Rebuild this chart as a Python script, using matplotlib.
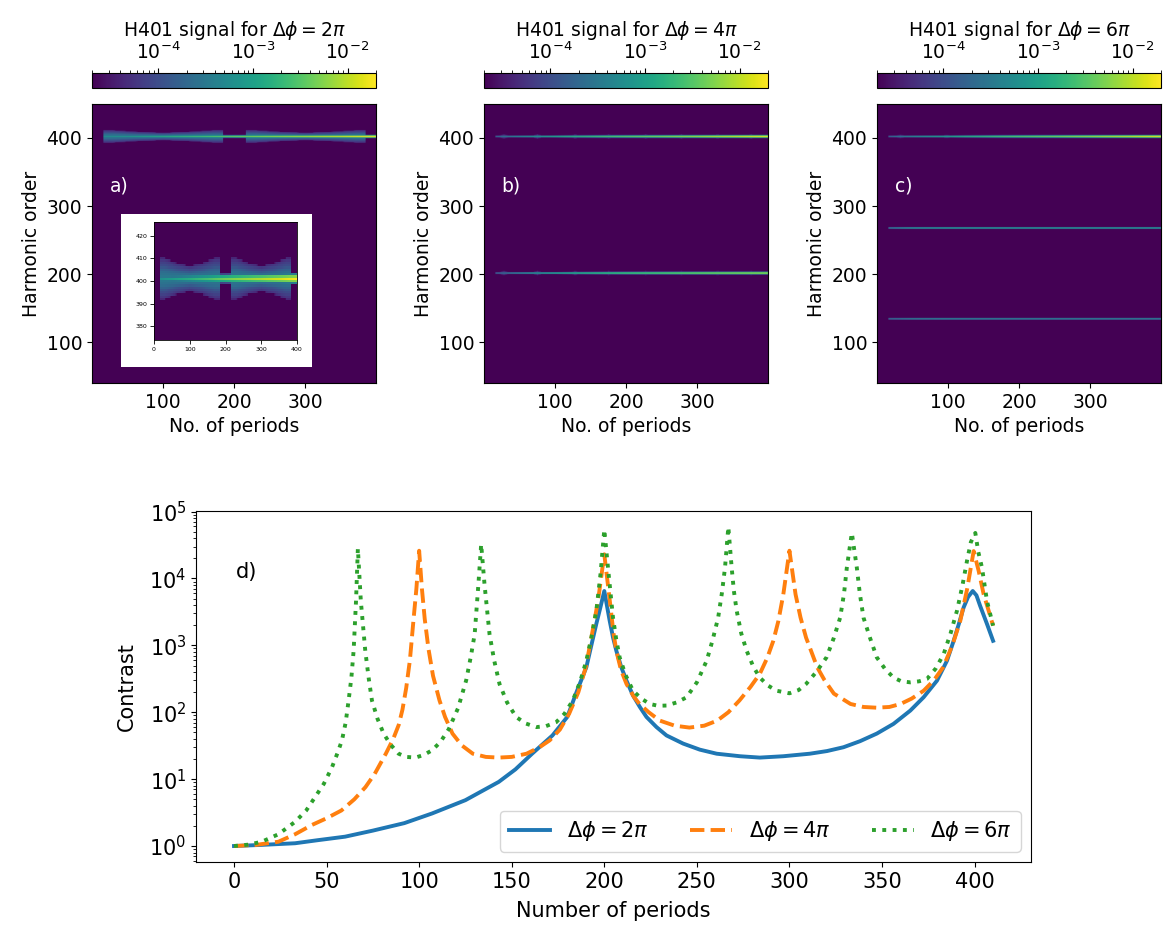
import numpy as np
import matplotlib.pyplot as plt
from matplotlib.colors import LogNorm

plt.rcParams['font.size'] = 13.5

# ---------------- contrast vs. number of periods (panel d) ----------------
n_2pi = [0, 15, 33, 45, 60, 75, 92, 107, 125, 143, 152, 161, 172, 180, 185, 190.3,
         193, 195.7, 198, 200, 202.9, 204.7, 206.5, 209.2, 212, 215.5, 219.2, 222.8,
         228.2, 233.6, 242.6, 251.6, 260.7, 273.3, 284, 296.7, 311, 320.3, 329.2,
         338.2, 347.2, 356.2, 365.3, 372.5, 379.7, 385.1, 388.7, 391.5, 394.1, 396.5,
         399, 401, 403, 406.7, 410]
c_2pi = [1.0, 1.04, 1.1, 1.22, 1.38, 1.7, 2.2, 3.07, 4.85, 9.1, 14, 24, 45, 85, 200, 470,
         1000, 2100, 3800, 6500, 2340, 1320, 830, 470, 297, 178, 120, 85,
         60, 45, 34, 27.6, 24, 22, 21, 22, 24, 26.3, 30,
         37, 48, 67, 106, 168, 297, 590, 1170, 2090, 3700, 5300,
         6500, 5600, 3900, 2090, 1170]

n_4pi = [0, 12, 24, 33, 42, 50, 58, 65, 71, 76, 82, 86, 89, 91, 93, 95, 97, 98.5, 100,
         101.5, 103, 105, 107.5, 111, 114, 118, 123, 129, 136, 143, 150, 158, 165,
         170.5, 176, 181, 186, 190, 193, 196.6, 200, 203, 205, 206.5, 209, 212, 216,
         219, 224, 230, 238, 246, 254, 261, 267, 273, 279, 284, 288, 291.3, 294,
         296.7, 300, 303.3, 306, 309, 311, 315, 319, 324, 333, 340, 347, 354, 360,
         366, 372.5, 378, 383, 388, 392.3, 396, 399.5, 402.2, 404.9, 407.6, 410]
c_4pi = [1.0, 1.04, 1.16, 1.5, 2.06, 2.6, 3.4, 5, 7.6, 12, 24, 40, 65, 110, 230, 600,
         2500, 7000, 26000,
         7000, 2500, 900, 350, 150, 85, 48, 32, 24, 21.5, 21, 21.5, 24, 30,
         38, 55, 95, 200, 470, 1300, 4600, 23000, 4600, 1500, 830, 430, 265, 170,
         133, 100, 75, 63, 59, 63, 75, 100, 150, 240, 375, 650, 1170, 2300,
         5800, 26000, 5800, 2600, 1300, 930, 470, 300, 190, 133, 120, 117, 120, 133,
         160, 210, 300, 470, 1000, 2340, 7000, 25700, 13000, 5800, 3300, 1970]

n_6pi = [0, 8, 15, 24, 33, 39, 43.8, 48.5, 52.9, 56, 58.3, 60.3, 61.9, 63.4, 64.6,
         65.9, 66.9, 68.5, 70.9, 72.7, 74.5, 77.5, 80.8, 84.5, 88.9, 93, 98, 102.5,
         107, 111.5, 116, 121, 125.4, 128, 130, 132, 133.5, 135.3, 138, 140.5, 143.4,
         147.5, 152.4, 157.5, 163.3, 168.5, 174, 178.5, 183, 187, 190.3, 193, 195.7,
         198, 200, 202, 204.7, 206.5, 208.3, 211.5, 215.5, 220, 224.6, 229, 233.6,
         239, 244.4, 250, 255.3, 258.5, 261.5, 263.5, 265.2, 267, 268.8, 270, 271.5,
         274, 276.9, 280.5, 284, 288.5, 293, 300, 305, 309, 314.5, 320, 324, 327.4,
         329.5, 331, 333.7, 336.4, 338, 340, 343.5, 347.2, 351.5, 356.2, 360.5,
         365.3, 370, 374.3, 379, 383.3, 387, 390.5, 393.5, 395.9, 398, 400.4, 402,
         404, 406.7, 410]
c_6pi = [1.0, 1.05, 1.16, 1.5, 2.3, 3.4, 5.4, 8.5, 15, 25, 38, 70, 150, 330, 830,
         4600, 28000, 4600, 830, 330, 150, 80, 48, 33, 24, 21.5, 21, 23,
         27, 36, 56, 115, 300, 700, 1480, 8200, 32500, 8200, 1480, 600, 265,
         140, 85, 68, 60, 62, 71, 95, 150, 290, 590, 1300, 3300,
         12000, 54000, 14500, 2600, 1200, 660, 360, 210, 160, 133, 125, 126,
         140, 167, 280, 590, 1200, 2600, 6000, 14500, 59000, 14500, 6500, 3300,
         1500, 830, 480, 330, 250, 210, 192, 215, 265, 400, 660, 1300, 2600,
         6000, 14500, 48000, 14500, 6000, 2600, 1300, 660, 450, 330, 290,
         280, 290, 315, 450, 740, 1500, 3300, 8000, 18300, 35000, 48000, 25000,
         14500, 4600, 1970]

# ---------------- H401 maps (panels a-c) ----------------
orders = np.arange(40, 451)          # harmonic order rows
periods = np.arange(1, 400, 2)       # number-of-periods columns

# strength of each bright harmonic line along the number of periods
line_periods = [16, 50, 100, 150, 200, 250, 300, 350, 400]
h401_2pi = [6e-4, 9e-4, 1.5e-3, 2.6e-3, 4.5e-3, 6.5e-3, 9e-3, 1.3e-2, 2e-2]
h401_4pi = [2e-4, 5e-4, 1.1e-3, 2.2e-3, 3.8e-3, 5.5e-3, 8e-3, 1.2e-2, 1.8e-2]
h201_4pi = [2e-4, 4.5e-4, 1e-3, 1.8e-3, 3e-3, 4e-3, 5.5e-3, 7e-3, 8.5e-3]
h401_6pi = [2e-4, 5e-4, 1e-3, 2e-3, 3.5e-3, 5e-3, 7.5e-3, 1.1e-2, 1.7e-2]
h267_6pi = [3e-4, 6e-4, 7e-4, 7e-4, 7e-4, 7e-4, 7e-4, 7e-4, 7e-4]
h134_6pi = [2.5e-4, 4e-4, 4.5e-4, 4.5e-4, 4.5e-4, 4.5e-4, 4.5e-4, 4.5e-4, 4.5e-4]

# cross-section of a bright line, offset in orders -> relative level
core_offset = [-2, -1, 0, 1, 2]
core_level = [0.02, 0.3, 1.0, 0.3, 0.02]

# cross-section of the side-band halo, offset / half width -> relative level
halo_offset = [0, 0.35, 0.6, 1.0, 1.05]
halo_level = [1.0, 0.65, 0.3, 0.12, 0.0]

# side-band halo around H401 for 2 pi (half width in orders)
halo_periods_2pi = [16, 30, 60, 100, 140, 170, 184, 185, 215, 216, 230, 260, 300,
                    340, 370, 384, 385, 400]
halo_width_2pi = [9, 9, 7, 5.5, 7, 9, 9, 0, 0, 9, 9, 7, 5.5, 7, 9, 9, 0, 0]

# faint side-band blobs for 4 pi and 6 pi
blobs_4pi = [28, 75, 128, 175, 227, 277, 328, 375]
blobs_6pi = [33, 98, 162, 225, 288, 350]

vmin, vmax = 2e-5, 2e-2


def blob_halo(centres, half_len=12, width=4):
    xs, ws = [], []
    for c in centres:
        xs += [c - half_len, c, c + half_len]
        ws += [0, width, 0]
    return xs, ws


def stripe_map(lines):
    img = np.zeros((orders.size, periods.size))
    for order, strength, h_per, h_wid, h_top in lines:
        peak = np.interp(periods, line_periods, strength, left=0)
        dy = orders[:, None] - order
        core = np.interp(dy, core_offset, core_level, left=0, right=0) * peak
        width = np.interp(periods, h_per, h_wid, left=0, right=0)
        rel = np.abs(dy) / np.maximum(width, 1e-9)
        halo = h_top * np.interp(rel, halo_offset, halo_level, right=0)
        halo[:, width <= 0.5] = 0
        img = np.maximum(img, np.maximum(core, halo))
    return np.clip(img, vmin, None)


bx4, bw4 = blob_halo(blobs_4pi)
bx6, bw6 = blob_halo(blobs_6pi, half_len=14, width=3.5)
maps = [
    stripe_map([(401, h401_2pi, halo_periods_2pi, halo_width_2pi, 3.5e-4)]),
    stripe_map([(401, h401_4pi, bx4, bw4, 1.4e-4), (201, h201_4pi, bx4, bw4, 1.3e-4)]),
    stripe_map([(401, h401_6pi, bx6, bw6, 1.2e-4), (267, h267_6pi, [0], [0], 0),
                (134, h134_6pi, [0], [0], 0)]),
]
titles = [r'H401 signal for $\Delta\phi = 2\pi$',
          r'H401 signal for $\Delta\phi = 4\pi$',
          r'H401 signal for $\Delta\phi = 6\pi$']
tags = ['a)', 'b)', 'c)']
lefts = [0.0788, 0.4147, 0.7515]

fig = plt.figure(figsize=(11.67, 9.35), dpi=100)
norm = LogNorm(vmin=vmin, vmax=vmax)
extent = [0, 400, 39.5, 450.5]

for img, title, tag, left in zip(maps, titles, tags, lefts):
    ax = fig.add_axes([left, 0.5904, 0.2434, 0.2984])
    im = ax.imshow(img, origin='lower', aspect='auto', extent=extent,
                   cmap='viridis', norm=norm)
    ax.set_xlim(0, 400)
    ax.set_ylim(40, 450)
    ax.set_xticks([100, 200, 300])
    ax.set_yticks([100, 200, 300, 400])
    ax.set_xlabel('No. of periods')
    ax.set_ylabel('Harmonic order')
    ax.text(25, 330, tag, color='white', va='center')

    cax = fig.add_axes([left, 0.9059, 0.2434, 0.016])
    cb = fig.colorbar(im, cax=cax, orientation='horizontal')
    cax.xaxis.set_ticks_position('top')
    cax.xaxis.set_label_position('top')
    cb.set_label(title)

# zoom on H401 for 2 pi, drawn over panel a
bg = fig.add_axes([0.1037, 0.6075, 0.1637, 0.1636])
bg.set_facecolor('white')
bg.set_xticks([])
bg.set_yticks([])
for s in bg.spines.values():
    s.set_visible(False)

ins = fig.add_axes([0.132, 0.6364, 0.1225, 0.1262])
ins.imshow(maps[0], origin='lower', aspect='auto', extent=extent,
           cmap='viridis', norm=norm, interpolation='nearest')
ins.set_xlim(0, 400)
ins.set_ylim(374, 426)
ins.set_xticks([0, 100, 200, 300, 400])
ins.set_yticks([380, 390, 400, 410, 420])
ins.tick_params(labelsize=4.5, length=3, width=0.6, pad=2)
for s in ins.spines.values():
    s.set_linewidth(0.6)

# contrast panel
axd = fig.add_axes([0.168, 0.0781, 0.7155, 0.3754])
axd.plot(n_2pi, c_2pi, '-', color='C0', lw=2.8, label=r'$\Delta\phi = 2\pi$')
axd.plot(n_4pi, c_4pi, '--', color='C1', lw=2.8, label=r'$\Delta\phi = 4\pi$')
axd.plot(n_6pi, c_6pi, ':', color='C2', lw=2.8, label=r'$\Delta\phi = 6\pi$')
axd.set_yscale('log')
axd.set_xlabel('Number of periods', fontsize=15, labelpad=7)
axd.set_ylabel('Contrast', fontsize=15, labelpad=9)
axd.set_xticks(np.arange(0, 401, 50))
axd.tick_params(labelsize=15)
axd.text(0.048, 0.826, 'd)', transform=axd.transAxes, va='center', fontsize=15)
axd.legend(loc='lower right', ncol=3, fontsize=15)

fig.savefig('out.png', dpi=100)
